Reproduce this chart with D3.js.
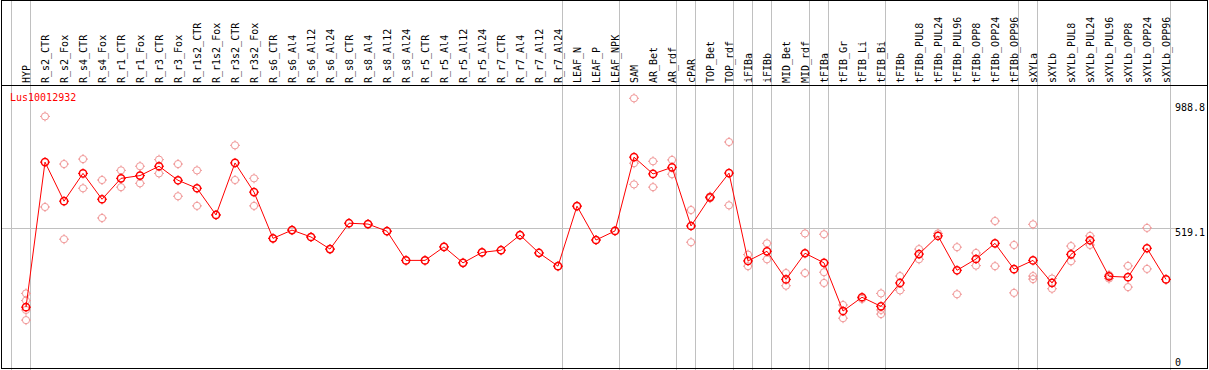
<!DOCTYPE html>
<html>
<head>
<meta charset="utf-8">
<script src="https://cdn.jsdelivr.net/npm/d3@7"></script>
<style>
  body { margin: 0; background: #fff; }
  text { font-family: "DejaVu Sans Mono", monospace; font-size: 10px; }
</style>
</head>
<body>
<svg id="chart"></svg>
<script>
const chartWidth = 1209;
const chartHeight = 370;

const GENE = "Lus10012932";

const categories = [
  "HYP", "R_s2_CTR", "R_s2_Fox", "R_s4_CTR", "R_s4_Fox", "R_r1_CTR", "R_r1_Fox",
  "R_r3_CTR", "R_r3_Fox", "R_r1s2_CTR", "R_r1s2_Fox", "R_r3s2_CTR", "R_r3s2_Fox",
  "R_s6_CTR", "R_s6_Al4", "R_s6_Al12", "R_s6_Al24", "R_s8_CTR", "R_s8_Al4", "R_s8_Al12",
  "R_s8_Al24", "R_r5_CTR", "R_r5_Al4", "R_r5_Al12", "R_r5_Al24", "R_r7_CTR", "R_r7_Al4",
  "R_r7_Al12", "R_r7_Al24", "LEAF_N", "LEAF_P", "LEAF_NPK", "SAM", "AR_Bet", "AR_rdf",
  "cPAR", "TOP_Bet", "TOP_rdf", "iFIBa", "iFIBb", "MID_Bet", "MID_rdf", "tFIBa",
  "tFIB_Gr", "tFIB_Li", "tFIB_Bi", "tFIBb", "tFIBb_PUL8", "tFIBb_PUL24", "tFIBb_PUL96",
  "tFIBb_OPP8", "tFIBb_OPP24", "tFIBb_OPP96", "sXYLa", "sXYLb", "sXYLb_PUL8",
  "sXYLb_PUL24", "sXYLb_PUL96", "sXYLb_OPP8", "sXYLb_OPP24", "sXYLb_OPP96"
];

// last category of each group (a gray separator follows it)
const groupEnds = ["HYP", "R_r7_Al24", "LEAF_NPK", "AR_rdf", "cPAR", "TOP_rdf", "iFIBa",
  "iFIBb", "MID_rdf", "tFIBa", "tFIB_Bi", "tFIBb_OPP96", "sXYLa", "sXYLb_OPP96"];

const means = [
  230, 757, 615, 716, 622, 698, 708, 742, 691, 662, 565, 754, 648,
  480, 510, 485, 441, 535, 532, 506, 400, 400, 449, 391, 429, 437, 492, 427, 379,
  597, 474, 507, 775, 714, 738, 525, 629, 717, 398, 433, 331, 426, 391,
  216, 266, 233, 318, 423, 489, 364, 405, 462, 368, 400, 318, 422, 473, 342, 339, 444, 331
];

const replicates = [
  [280, 254, 220, 183], [923, 594], [750, 477], [768, 662], [692, 554], [727, 666], [742, 680],
  [766, 716], [750, 633], [727, 598], [565], [818, 692], [698, 598],
  [480], [510], [485], [441], [535], [532], [506], [400], [400], [449], [391], [429], [437], [492], [427], [379],
  [597], [474], [507], [988.8, 753, 676], [760, 666], [765, 713], [583, 466], [632, 626], [830, 600],
  [421, 379], [462, 404], [354, 308], [498, 354], [495, 357, 318],
  [238, 190], [260], [280, 220, 205], [343, 291], [441, 404], [498], [448, 277], [427, 381],
  [543, 379], [456, 282], [531, 343, 332], [334, 297], [452, 397], [489, 456], [334, 347],
  [380, 303], [518, 369], [331]
];

const yTicks = [0, 519.1, 988.8];

const xScale = d3.scaleBand().domain(categories).range([11, 1170]);
const yScale = d3.scaleLinear().domain([0, 988.8]).range([370.5, 98.3]);

const px = c => xScale(c) + 15;

const svg = d3.select("#chart")
  .attr("width", chartWidth)
  .attr("height", chartHeight);

const grid = svg.append("g")
  .attr("stroke", "#c0c0c0")
  .attr("shape-rendering", "crispEdges");

// group separators
grid.append("line")
  .attr("x1", 11.5).attr("x2", 11.5)
  .attr("y1", 0).attr("y2", chartHeight);
grid.selectAll(".sep")
  .data(groupEnds)
  .join("line")
  .attr("class", "sep")
  .attr("x1", d => xScale(d) + xScale.bandwidth() + 0.5)
  .attr("x2", d => xScale(d) + xScale.bandwidth() + 0.5)
  .attr("y1", 0)
  .attr("y2", chartHeight);

// mean level line
grid.append("line")
  .attr("x1", 1).attr("x2", 1176)
  .attr("y1", Math.round(yScale(519.1)) + 0.5)
  .attr("y2", Math.round(yScale(519.1)) + 0.5);

// frame
const frame = svg.append("g")
  .attr("stroke", "#000")
  .attr("fill", "none")
  .attr("shape-rendering", "crispEdges");
frame.append("rect")
  .attr("x", 1.5).attr("y", 0.5)
  .attr("width", 1206).attr("height", 368);
frame.append("line")
  .attr("x1", 1).attr("x2", 1208)
  .attr("y1", 85.5).attr("y2", 85.5);

// header labels
svg.append("g")
  .selectAll("text")
  .data(categories)
  .join("text")
  .attr("transform", d => `translate(${xScale(d) + 18.5}, 83) rotate(-90)`)
  .attr("fill", "#000")
  .text(d => d);

// y tick labels
svg.append("g")
  .selectAll("text")
  .data(yTicks)
  .join("text")
  .attr("x", 1175)
  .attr("y", d => Math.max(111, Math.min(366, yScale(d) + 8.5)))
  .attr("fill", "#000")
  .text(d => d);

svg.append("text")
  .attr("x", 10)
  .attr("y", 101)
  .attr("fill", "red")
  .text(GENE);

function drawMarkers(g, data, color, width) {
  const m = g.selectAll("g")
    .data(data)
    .join("g")
    .attr("transform", d => `translate(${px(d.c)}, ${yScale(d.v)})`)
    .attr("fill", "none")
    .attr("stroke", color)
    .attr("stroke-width", width);
  m.append("circle").attr("r", 3.6);
  m.append("path")
    .attr("stroke-width", 1)
    .attr("d", "M0,-3.6V-5M0,3.6V5M-3.6,0H-5M3.6,0H5");
}

// replicate points
const repData = [];
categories.forEach((c, i) => replicates[i].forEach(v => repData.push({c, v})));
drawMarkers(svg.append("g"), repData, "#f09696", 1);

// mean line and points
const meanData = categories.map((c, i) => ({c, v: means[i]}));
svg.append("path")
  .datum(meanData)
  .attr("fill", "none")
  .attr("stroke", "red")
  .attr("stroke-width", 1)
  .attr("d", d3.line().x(d => px(d.c)).y(d => yScale(d.v)));

drawMarkers(svg.append("g"), meanData, "red", 1.5);
</script>
</body>
</html>
